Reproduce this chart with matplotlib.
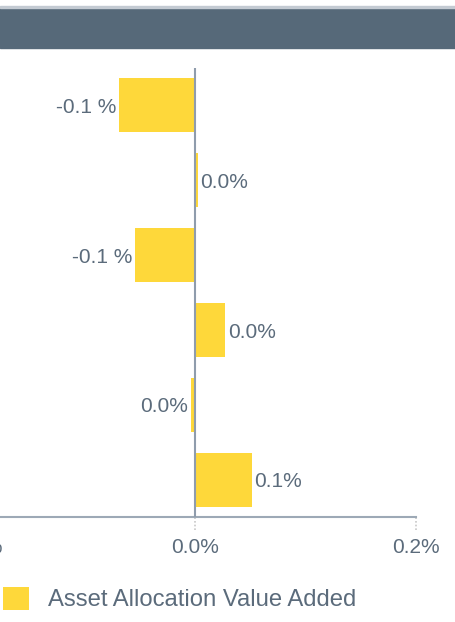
"""
Horizontal bar chart: asset allocation value added.
"""
import matplotlib
matplotlib.use("Agg")
import matplotlib.pyplot as plt
from matplotlib.patches import Rectangle

# values in percent, top to bottom
values = [-0.069, 0.002, -0.055, 0.027, -0.004, 0.051]
bar_labels = ["-0.1 %", "0.0%", "-0.1 %", "0.0%", "0.0%", "0.1%"]
x_ticks = [-0.2, 0.0, 0.2]
x_tick_labels = ["-0.2%", "0.0%", "0.2%"]
series_name = "Asset Allocation Value Added"

BAR_COLOR = "#FED83A"
TEXT_COLOR = "#5B6B7B"
AXIS_COLOR = "#9DA9B6"
ZERO_COLOR = "#8F9CAC"
HEADER_COLOR = "#566979"

plt.rcParams["font.family"] = ["Liberation Sans", "DejaVu Sans"]

W, H = 456, 622
fig = plt.figure(figsize=(W / 100, H / 100), dpi=100)

# header band
fig.patches.append(Rectangle((0, 1 - 48 / H), 1, 40 / H, transform=fig.transFigure,
                             color=HEADER_COLOR, zorder=0))
fig.patches.append(Rectangle((0, 1 - 8 / H), 1, 2 / H, transform=fig.transFigure,
                             color="#C3CAD2", zorder=0))

# axes extend past the left edge (the left part of the chart is cut off)
ax = fig.add_axes([-25 / W, (H - 517) / H, 441 / W, 449 / H])

y = list(range(len(values)))
bars = ax.barh(y, values, height=0.72, color=BAR_COLOR, label=series_name, zorder=2)

ax.set_xlim(-0.2, 0.2)
ax.set_ylim(len(values) - 0.5, -0.5)

ax.axvline(0, color=ZERO_COLOR, linewidth=1.5, zorder=3)

for spine in ["top", "right", "left"]:
    ax.spines[spine].set_visible(False)
ax.spines["bottom"].set_color(AXIS_COLOR)
ax.spines["bottom"].set_linewidth(1.5)

ax.set_yticks([])
ax.set_xticks(x_ticks)
ax.set_xticklabels(x_tick_labels, fontsize=15, color=TEXT_COLOR)
ax.tick_params(axis="x", length=0, pad=15)

# dotted tick marks under the axis
ax.vlines(x_ticks, -0.03, 0, transform=ax.get_xaxis_transform(), colors="#C8C8C8",
          linestyles=(0, (1, 1.2)), linewidth=1.2, clip_on=False)

# value labels
for v, yy, lab in zip(values, y, bar_labels):
    offset = 0.0025
    if v < 0:
        ax.text(v - offset, yy + 0.03, lab, ha="right", va="center",
                fontsize=15, color=TEXT_COLOR)
    else:
        ax.text(v + offset, yy + 0.03, lab, ha="left", va="center",
                fontsize=15, color=TEXT_COLOR)

fig.legend(handles=[bars], labels=[series_name], loc="center left",
           bbox_to_anchor=(3 / W, 1 - 599 / H), frameon=False, fontsize=17.2,
           labelcolor=TEXT_COLOR, handlelength=1.1, handleheight=1.1,
           handletextpad=0.8, borderpad=0, borderaxespad=0)

plt.savefig("out.png", dpi=100)
plt.close()
